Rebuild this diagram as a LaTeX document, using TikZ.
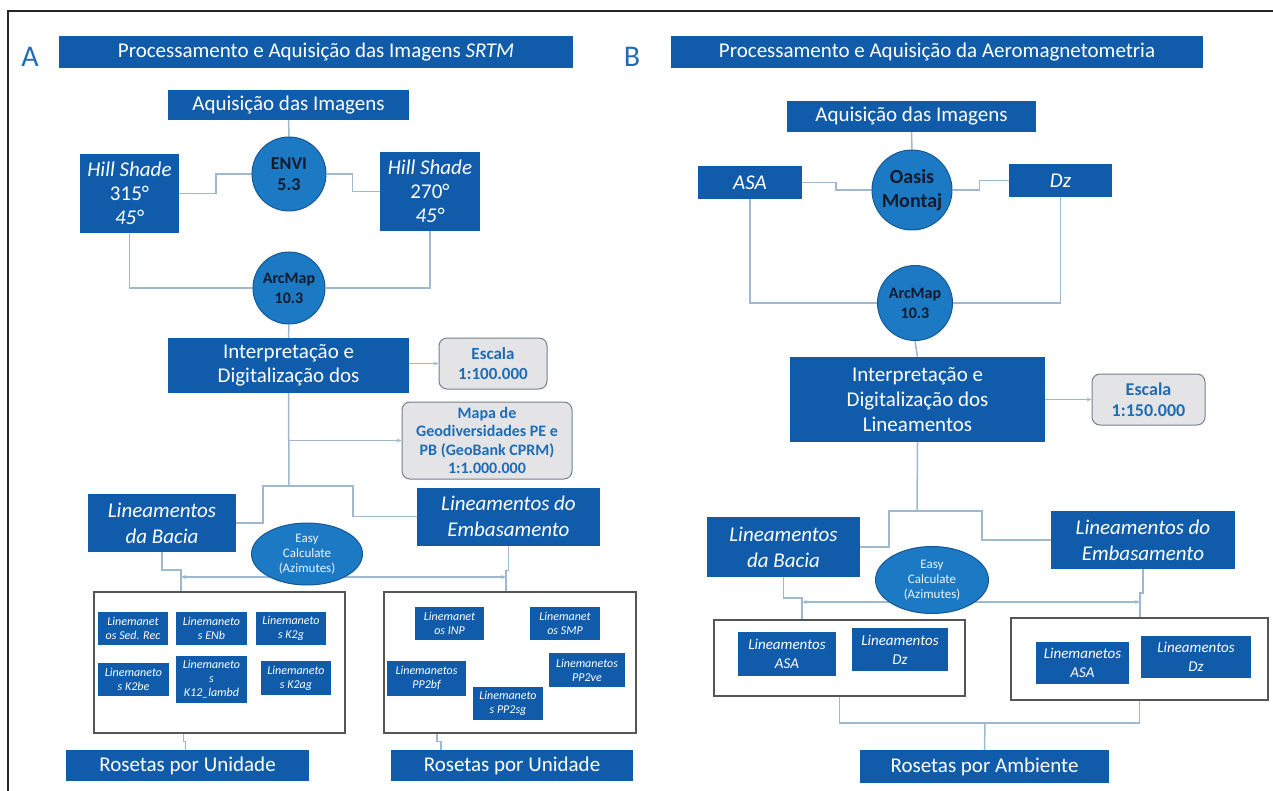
\documentclass[tikz,border=0pt]{standalone}
\usepackage{fontspec}
\setmainfont{Carlito}
\usetikzlibrary{arrows.meta,shapes.geometric,backgrounds}

\definecolor{boxblue}{RGB}{16,92,170}
\definecolor{circblue}{RGB}{28,122,196}
\definecolor{circedge}{RGB}{22,88,150}
\definecolor{circtext}{RGB}{18,26,46}
\definecolor{lnblue}{RGB}{158,184,210}
\definecolor{textblue}{RGB}{30,108,180}
\definecolor{grayfill}{RGB}{228,228,230}
\definecolor{grayedge}{RGB}{118,128,142}
\definecolor{grpedge}{RGB}{85,85,85}

\newcommand{\fsz}[2]{\fontsize{#1}{#2}\selectfont}

\tikzset{
  wh/.style 2 args={minimum width=#1pt, minimum height=#2pt},
  bbox/.style={fill=boxblue, text=white, inner sep=0pt, align=center, font=\fsz{21}{24}},
  circ/.style={circle, fill=circblue, draw=circedge, line width=1pt, inner sep=0pt,
    text=circtext, align=center, font=\bfseries\fsz{18}{21}},
  easy/.style={ellipse, fill=circblue, draw=circedge, line width=1pt, inner sep=0pt,
    text=white!92!circblue, align=center, font=\fsz{13}{15}},
  scalebox/.style={rounded corners=8pt, fill=grayfill, draw=grayedge, line width=1pt,
    inner sep=0pt, text=textblue, align=center, font=\bfseries\fsz{17}{20}},
  grp/.style={draw=grpedge, line width=1.2pt, inner sep=0pt},
  ubox/.style={fill=boxblue, text=white, inner sep=0pt, align=center, font=\itshape\fsz{12}{14}},
  lab/.style={text=textblue, font=\fsz{30}{32}},
  ln/.style={draw=lnblue, line width=1.5pt},
  arr/.style={-{Stealth[length=5pt,width=4pt]}},
  arrs/.style={{Stealth[length=5pt,width=4pt]}-{Stealth[length=5pt,width=4pt]}},
  frame/.style={draw=black!85, line width=2pt}
}

\begin{document}
\begin{tikzpicture}[x=1pt,y=-1pt]
\useasboundingbox (0,0) rectangle (1273,791);
\draw[frame] (7,11) -- (1273,11);
\draw[frame] (8,11) -- (8,791);

% painel A
\node[lab] (labA) at (30,57) {A};
\node[bbox, wh={514}{32}] (titA) at (316,52) {Processamento e Aquisição das Imagens \textit{SRTM}};
\node[bbox, wh={241}{30}] (aqA) at (288.5,105) {Aquisição das Imagens};
\node[circ, minimum size=74pt] (envi) at (289,174) {ENVI\\5.3};
\node[bbox, wh={99}{79}] (hsL) at (129.5,193.5) {\textit{Hill Shade}\\315°\\\textit{45°}};
\node[bbox, wh={100}{79}] (hsR) at (430,191.5) {\textit{Hill Shade}\\270°\\\textit{45°}};
\node[circ, minimum size=72pt, font=\bfseries\fsz{16}{20}] (arcA) at (289,288) {ArcMap\\10.3};
\node[bbox, wh={241}{55}] (intA) at (288.5,365.5) {Interpretação e\\Digitalização dos};
\node[scalebox, wh={108}{51}] (escA) at (493,363.5) {Escala\\1:100.000};
\node[scalebox, wh={170}{77}, font=\bfseries\fsz{16}{18.5}] (mapa) at (487,440.5)
  {Mapa de\\Geodiversidades PE e\\PB (GeoBank CPRM)\\1:1.000.000};
\node[bbox, wh={148}{58}, font=\itshape\fsz{21}{26}] (bacA) at (162,523) {Lineamentos\\da Bacia};
\node[bbox, wh={183}{58}, font=\itshape\fsz{21}{26}] (embA) at (508.5,516.5) {Lineamentos do\\Embasamento};
\node[easy, wh={111}{62}] (easyA) at (307,554) {Easy\\Calculate\\(Azimutes)};
\coordinate (eaL) at (181,577);
\coordinate (eaR) at (506,577);

\node[grp, wh={251}{141}] (unitL) at (219.5,662.5) {};
\node[grp, wh={252}{141}] (unitR) at (510,662.5) {};
\node[ubox, wh={70}{33}] (u1) at (133,628.5) {Linemanet\\os Sed. Rec};
\node[ubox, wh={71}{33}] (u2) at (211.5,628.5) {Linemaneto\\s ENb};
\node[ubox, wh={70}{33}] (u3) at (291,628.5) {Linemaneto\\s K2g};
\node[ubox, wh={71}{33}] (u4) at (133.5,679.5) {Linemaneto\\s K2be};
\node[ubox, wh={71}{47}] (u5) at (211.5,679.5) {Linemaneto\\s\\K12\_lambd};
\node[ubox, wh={70}{34}] (u6) at (296,678) {Linemaneto\\s K2ag};
\node[ubox, wh={69}{33}] (v1) at (449.5,623.5) {Linemanet\\os INP};
\node[ubox, wh={70}{33}] (v2) at (565,623.5) {Linemanet\\os SMP};
\node[ubox, wh={79}{35}] (v3) at (426.5,678.5) {Linemanetos\\PP2bf};
\node[ubox, wh={70}{33}] (v4) at (508,703.5) {Linemaneto\\s PP2sg};
\node[ubox, wh={76}{34}] (v5) at (587,670) {Linemanetos\\PP2ve};
\node[bbox, wh={243}{31}] (rosA1) at (187.5,765.5) {Rosetas por Unidade};
\node[bbox, wh={242}{31}] (rosA2) at (512,765.5) {Rosetas por Unidade};

% painel B
\node[lab] (labB) at (632,57) {B};
\node[bbox, wh={532}{32}] (titB) at (937,52) {Processamento e Aquisição da Aeromagnetometria};
\node[bbox, wh={249}{31}] (aqB) at (911.5,116.5) {Aquisição das Imagens};
\node[circ, minimum size=80pt, font=\bfseries\fsz{20}{24}] (oasis) at (912,190) {Oasis\\Montaj};
\node[bbox, wh={104}{33}, font=\itshape\fsz{21}{24}] (asa) at (750,182.5) {ASA};
\node[bbox, wh={103}{33}, font=\itshape\fsz{21}{24}] (dz) at (1060.5,180.5) {Dz};
\node[circ, minimum size=75pt, font=\bfseries\fsz{16}{20}] (arcB) at (915,303) {ArcMap\\10.3};
\node[bbox, wh={255}{85}, font=\fsz{21}{25}] (intB) at (917.5,399.5) {Interpretação e\\Digitalização dos\\Lineamentos};
\node[scalebox, wh={113}{51}, font=\bfseries\fsz{18}{21}] (escB) at (1148.5,399.5) {Escala\\1:150.000};
\node[bbox, wh={153}{60}, font=\itshape\fsz{21}{26}] (bacB) at (783.5,547) {Lineamentos\\da Bacia};
\node[bbox, wh={184}{58}, font=\itshape\fsz{21}{26}] (embB) at (1143,540) {Lineamentos do\\Embasamento};
\node[easy, wh={113}{67}] (easyB) at (932,580) {Easy\\Calculate\\(Azimutes)};
\coordinate (ebL) at (802,602);
\coordinate (ebR) at (1140,602);

\node[grp, wh={251}{76}] (unitBL) at (839.5,658) {};
\node[grp, wh={257}{82}] (unitBR) at (1139.5,659) {};
\node[ubox, wh={98}{44}, font=\itshape\fsz{15}{19}] (w1) at (787,654) {Lineamentos\\ASA};
\node[ubox, wh={96}{43}, font=\itshape\fsz{15}{19}] (w2) at (900,649.5) {Lineamentos\\Dz};
\node[ubox, wh={93}{42}, font=\itshape\fsz{15}{19}] (w3) at (1082.5,663) {Linemanetos\\ASA};
\node[ubox, wh={110}{42}, font=\itshape\fsz{15}{19}] (w4) at (1196,657) {Lineamentos\\Dz};
\coordinate (jR) at (985,723);
\node[bbox, wh={249}{33}] (rosB) at (984.5,766.5) {Rosetas por Ambiente};

\begin{pgfonlayer}{background}
% ligacoes A
\draw[ln] (aqA.south) -- (envi.north);
\draw[ln] (hsL.east) -- ++(37,0) |- (envi.west);
\draw[ln] (envi.east) -- ++(26,0) |- (hsR.west);
\draw[ln] (hsL.south) |- (arcA.west);
\draw[ln] (hsR.south) |- (arcA.east);
\draw[ln] (arcA.south) -- (intA.north);
\draw[ln, arr] (intA.east |- escA.west) -- (escA.west);
\coordinate (jA) at (289,486);
\draw[ln] (intA.south) -- (jA);
\draw[ln, arr] (intA.south |- mapa.west) -- (mapa.west);
\draw[ln] (jA) -- ++(-26,0) |- (bacA.east);
\draw[ln] (jA) -- ++(64,0) |- (embA.west);
\draw[ln, arrs] (eaL) -- (eaR);
\draw[ln] (bacA.south) -- ++(0,18) -| (eaL |- unitL.north);
\draw[ln] (embA.south) -- ++(0,25) -| (eaR |- unitR.north);
\draw[ln] ([xshift=-36pt]unitL.south) -- ++(0,8) -| ([xshift=-2pt]rosA1.north);
\draw[ln] ([xshift=-73pt]unitR.south) -- ++(0,8) -| ([xshift=-71pt]rosA2.north);
% ligacoes B
\draw[ln] (aqB.south) -- (oasis.north);
\draw[ln] (asa.east) -- ++(34,0) |- (oasis.west);
\draw[ln] (oasis.east) -- ++(27,0) |- (dz.west);
\draw[ln] (asa.south) |- (arcB.west);
\draw[ln] (dz.south) |- (arcB.east);
\draw[ln] (arcB.south) -- (intB.north);
\draw[ln, arr] (intB.east) -- (escB.west);
\coordinate (jB) at (917,511);
\draw[ln] (intB.south) -- (jB);
\draw[ln] (jB) -- ++(-28,0) |- (bacB.east);
\draw[ln] (jB) -- ++(65,0) |- (embB.west);
\draw[ln, arrs] (ebL) -- (ebR);
\draw[ln] (bacB.south) -- ++(0,21) -| (ebL |- unitBL.north);
\draw[ln] (embB.south) -- ++(0,24) -| (ebR |- unitBR.north);
\draw[ln] (unitBL.south) |- (jR) -| (unitBR.south);
\draw[ln] (jR) -- (rosB.north);
\end{pgfonlayer}
\end{tikzpicture}
\end{document}
